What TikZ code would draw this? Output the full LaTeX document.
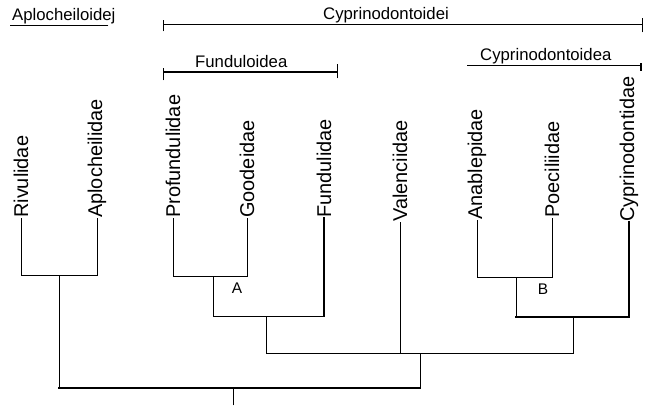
\documentclass[tikz,border=0pt]{standalone}
\usepackage{fontspec}
\setmainfont{Liberation Sans}
\begin{document}
\begin{tikzpicture}[x=1bp,y=-1bp,
  leaf/.style={rotate=90,anchor=west,inner sep=0pt,font=\fontsize{20}{20}\selectfont},
  head/.style={anchor=base west,inner sep=0pt,font=\fontsize{16.8}{17}\selectfont},
  clade/.style={inner sep=0pt,font=\fontsize{15.5}{16}\selectfont},
  br/.style={line width=0.85bp,line cap=rect},
  brb/.style={line width=1.5bp,line cap=rect}]
\useasboundingbox (0,0) rectangle (647,405);
% headers
\node[head] (aploid) at (12,20) {Aplocheiloidej};
\draw[br] (aploid.south west) ++(-2,1.5) -- ++(98,0);
\node[head] (cyprinoidei) at (323,19) {Cyprinodontoidei};
\coordinate (ci1) at (163,24);
\coordinate (ci2) at (642,24);
\draw[br] (ci1) -- (ci2);
\draw[br] (163,20) -- (163,31);
\draw[br] (642,18) -- (642,32);
\node[head] (funduloidea) at (195,67) {Funduloidea};
\coordinate (fu1) at (163,72);
\coordinate (fu2) at (337,72);
\draw[brb,line cap=butt] (fu1) -- (fu2);
\draw[br] (163,68) -- (163,80);
\draw[br] (337,64) -- (337,78);
\node[head] (cyprinoidea) at (480,60) {Cyprinodontoidea};
\coordinate (cy1) at (467,65);
\coordinate (cy2) at (641,65);
\draw[br] (cy1) -- (cy2);
\draw[line width=2.5bp] (641,63) -- (641,71);
% leaves
\node[leaf] (riv) at (21,218) {Rivulidae};
\node[leaf] (apl) at (97,218) {Aplocheilidae};
\node[leaf] (pro) at (173,218) {Profundulidae};
\node[leaf] (goo) at (247,218) {Goodeidae};
\node[leaf] (fun) at (324,218) {Fundulidae};
\node[leaf] (val) at (400,222) {Valenciidae};
\node[leaf] (ana) at (477,220) {Anablepidae};
\node[leaf] (poe) at (552,218) {Poeciliidae};
\node[leaf] (cyp) at (629,222) {Cyprinodontidae};
% internal joints
\coordinate (n1) at (59,275);
\coordinate (nA) at (213,276);
\coordinate (nAF) at (266,316);
\coordinate (nB) at (516,277);
\coordinate (nBC) at (573,317);
\coordinate (nmid) at (420,353);
\coordinate (root) at (233,388);
\coordinate (rootend) at (233,405);
% branches
\draw[br] (riv.west) -- (riv.west |- n1) -- (apl.west |- n1) -- (apl.west);
\draw[br] (pro.west) -- (pro.west |- nA) -- (goo.west |- nA) -- (goo.west);
\draw[br] (nA) -- (nA |- nAF) -- (fun.west |- nAF);
\draw[brb] (fun.west |- nAF) -- (fun.west);
\draw[br] (ana.west) -- (ana.west |- nB) -- (poe.west |- nB) -- (poe.west);
\draw[br] (nB) -- (nB |- nBC);
\draw[brb] (nB |- nBC) -- (cyp.west |- nBC) -- (cyp.west);
\draw[br] (nAF) -- (nAF |- nmid) -- (nBC |- nmid) -- (nBC);
\draw[br] (val.west) -- (val.west |- nmid);
\draw[br] (nmid) -- (nmid |- root);
\draw[br] (n1) -- (n1 |- root);
\draw[brb] (n1 |- root) -- (nmid |- root);
\draw[br] (root) -- (rootend);
% labels
\node[clade] (A) at (237,288) {A};
\node[clade] (B) at (543,289) {B};
\end{tikzpicture}
\end{document}
